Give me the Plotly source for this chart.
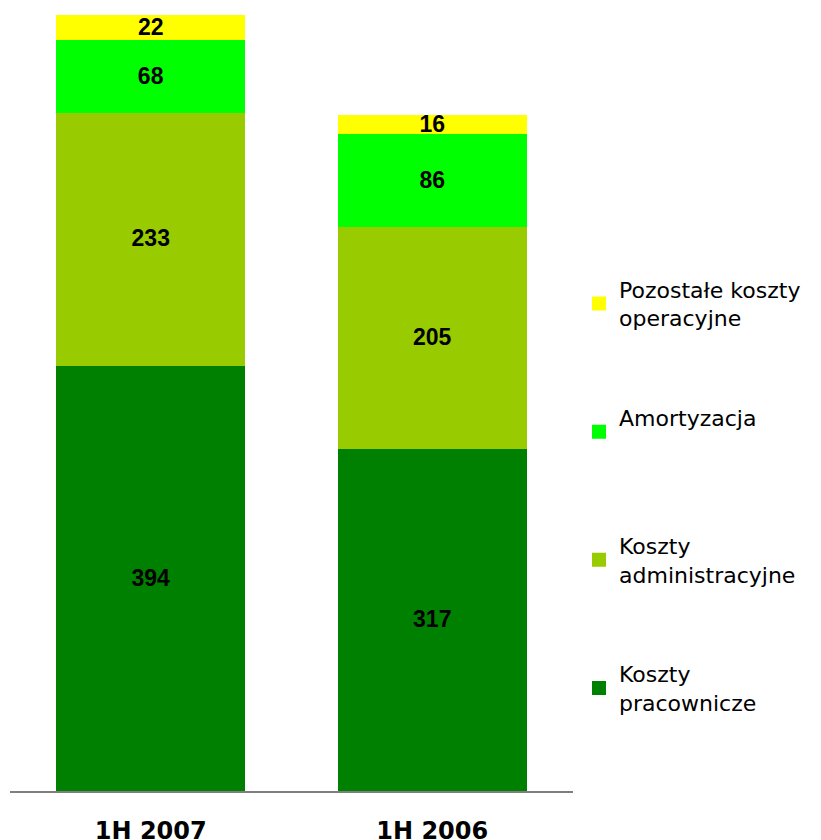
import plotly.graph_objects as go

categories = ["1H 2007", "1H 2006"]
series_names = ["Koszty<br>pracownicze", "Koszty<br>administracyjne", "Amortyzacja<br> ", "Pozostałe koszty<br>operacyjne"]
koszty_pracownicze = [394, 317]
koszty_administracyjne = [233, 205]
amortyzacja = [68, 86]
pozostale = [22, 16]
colors = ["#008000", "#99CC00", "#00FF00", "#FFFF00"]
legend_ranks = [4, 3, 2, 1]

fig = go.Figure()
for name, vals, col, rank in zip(series_names, [koszty_pracownicze, koszty_administracyjne, amortyzacja, pozostale], colors, legend_ranks):
    fig.add_trace(go.Bar(
        x=categories, y=vals, name=name, legendgroup=name, legendrank=rank,
        marker=dict(color=col, line=dict(width=2, color=col)),
        text=[str(v) for v in vals], textposition="inside", insidetextanchor="middle",
        textangle=0, constraintext="none",
        textfont=dict(family="Liberation Sans, Arial", size=23, color="black", weight="bold"),
        width=0.664,
    ))

fig.update_layout(
    barmode="stack",
    width=821, height=840,
    margin=dict(l=2, r=256, t=7, b=57, autoexpand=False),
    plot_bgcolor="white", paper_bgcolor="white",
    uniformtext=dict(minsize=23, mode="show"),
    showlegend=True,
    legend=dict(
        traceorder="grouped", tracegroupgap=68,
        x=1.0107, xanchor="left", y=0.6735, yanchor="top",
        font=dict(family="DejaVu Sans, Verdana", size=22, color="black"),
        itemwidth=30, bgcolor="rgba(0,0,0,0)",
    ),
    xaxis=dict(
        range=[-0.5, 1.5], showline=True, linecolor="#7f7f7f", linewidth=2,
        showgrid=False, zeroline=False, ticks="", ticklabelstandoff=17, automargin=False,
        tickfont=dict(family="DejaVu Sans, Verdana", size=24, color="black", weight="bold"),
    ),
    yaxis=dict(range=[0, 717], visible=False, showgrid=False, zeroline=False, automargin=False),
)

fig.write_html("out.html")
